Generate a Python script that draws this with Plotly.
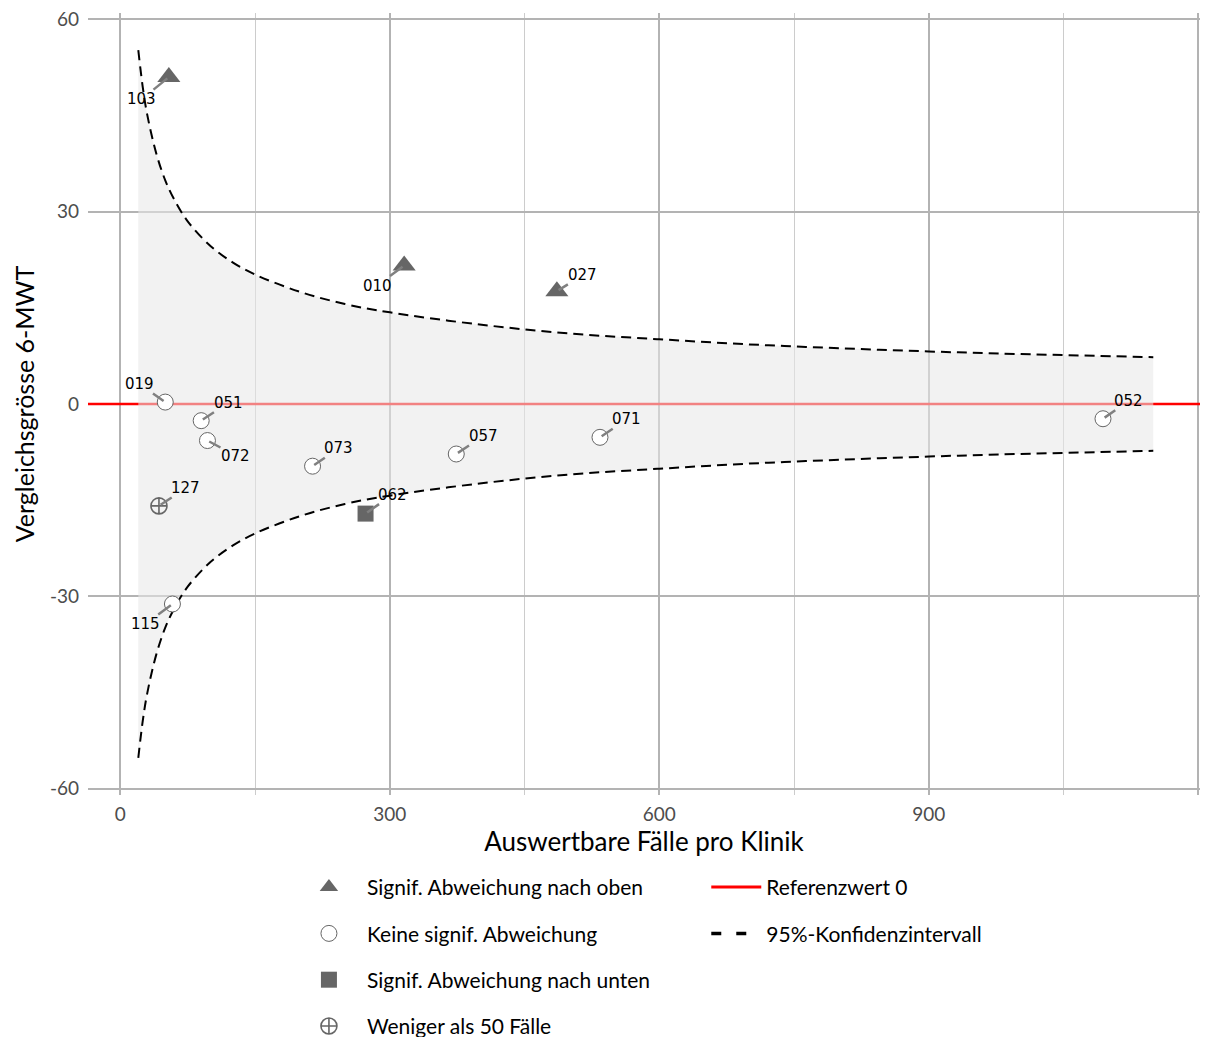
import plotly.graph_objects as go

# ---- data ----
clinic_ids = ["103", "010", "027", "019", "051", "072", "073", "057", "071", "052", "127", "062", "115"]
cases      = [54, 316, 486, 50, 90, 97, 214, 374, 534, 1094, 43, 273, 58]
values     = [51.0, 21.6, 17.6, 0.3, -2.6, -5.7, -9.7, -7.8, -5.2, -2.3, -15.9, -17.1, -31.2]
groups     = ["up", "up", "up", "none", "none", "none", "none", "none", "none", "none", "few", "down", "none"]

# label offsets (pixels, text centre relative to point)
label_dx = [-27, -27, 26, -26, 27, 28, 26, 27, 27, 26, 27, 27, -27]
label_dy = [22, 20, -16, -18, -18, 15, -18, -18, -18, -18, -18, -19, 20]

# 95% confidence funnel
ci_cases = [20, 25, 30, 40, 50, 60, 75, 100, 125, 150, 200, 250, 300, 400, 500, 600, 700, 800, 900, 1000, 1150]
ci_upper = [55.2, 49.4, 45.1, 39.1, 34.9, 31.9, 28.5, 24.7, 22.1, 20.2, 17.5, 15.6, 14.3, 12.4, 11.0, 10.1, 9.3, 8.7, 8.2, 7.8, 7.3]
ci_lower = [-55.2, -49.4, -45.1, -39.1, -34.9, -31.9, -28.5, -24.7, -22.1, -20.2, -17.5, -15.6, -14.3, -12.4, -11.0, -10.1, -9.3, -8.7, -8.2, -7.8, -7.3]

reference_value = 0
x_ticks = [0, 300, 600, 900, 1200]
x_minor = [150, 450, 750, 1050]
y_ticks = [-60, -30, 0, 30, 60]
x_range = [-36, 1202]
y_range = [-61, 61]

group_info = {
    "up":   ("Signif. Abweichung nach oben", "triangle-up", 20, "#666666", "#666666", 0),
    "none": ("Keine signif. Abweichung", "circle", 16, "white", "#666666", 1),
    "down": ("Signif. Abweichung nach unten", "square", 16, "#666666", "#666666", 0),
    "few":  ("Weniger als 50 Fälle", "circle-cross-open", 16, "#666666", "#666666", 1.6),
}
group_order = ["up", "none", "down", "few"]

FONT = "Lato"
CI_DASH = "10px,6px"
fig = go.Figure()

# reference line spanning the whole panel
fig.add_trace(go.Scatter(x=x_range, y=[reference_value, reference_value], mode="lines",
                         line=dict(color="#ff0000", width=2.5), showlegend=False))

# confidence band fill (lower edge, then upper edge filled to it)
fig.add_trace(go.Scatter(x=ci_cases, y=ci_lower, mode="lines",
                         line=dict(width=0, shape="spline"), hoverinfo="skip", showlegend=False))
fig.add_trace(go.Scatter(x=ci_cases, y=ci_upper, mode="lines", fill="tonexty",
                         fillcolor="rgba(232,232,232,0.56)",
                         line=dict(width=0, shape="spline"), hoverinfo="skip", showlegend=False))

# dashed CI lines
fig.add_trace(go.Scatter(x=ci_cases, y=ci_upper, mode="lines",
                         line=dict(color="black", width=2, dash=CI_DASH, shape="spline"),
                         showlegend=False))
fig.add_trace(go.Scatter(x=ci_cases, y=ci_lower, mode="lines",
                         line=dict(color="black", width=2, dash=CI_DASH, shape="spline"),
                         showlegend=False))

# points
for i, g in enumerate(group_order):
    name, sym, size, fillc, linec, lw = group_info[g]
    xs = [c for c, gg in zip(cases, groups) if gg == g]
    ys = [v for v, gg in zip(values, groups) if gg == g]
    fig.add_trace(go.Scatter(
        x=xs, y=ys, mode="markers", name=name, legend="legend", legendgroup=g, legendrank=i + 1,
        marker=dict(symbol=sym, size=size, color=fillc, line=dict(color=linec, width=lw))))

# legend entries for the lines
fig.add_trace(go.Scatter(x=[None], y=[None], mode="lines", name="Referenzwert 0",
                         line=dict(color="#ff0000", width=3),
                         legend="legend2", legendgroup="ref", legendrank=1))
fig.add_trace(go.Scatter(x=[None], y=[None], mode="lines", name="95%-Konfidenzintervall",
                         line=dict(color="black", width=3.5, dash="10px,15px"),
                         legend="legend2", legendgroup="ci", legendrank=2))

# labels
for cid, cx, cy, dx, dy in zip(clinic_ids, cases, values, label_dx, label_dy):
    fig.add_annotation(x=cx, y=cy, text=cid, showarrow=True, arrowhead=0, arrowwidth=2.5,
                       arrowcolor="#808080", standoff=2, ax=dx, ay=dy, xref="x", yref="y",
                       font=dict(family="DejaVu Sans", size=15, color="black"), borderpad=0)

grid_major = "#b3b3b3"
grid_minor = "#cccccc"
fig.update_layout(
    width=1218, height=1037,
    margin=dict(l=88, r=18, t=13, b=242, autoexpand=False),
    paper_bgcolor="white", plot_bgcolor="white",
    font=dict(family=FONT, color="black"),
    xaxis=dict(range=x_range, tickvals=x_ticks, ticktext=[str(v) for v in x_ticks],
               showgrid=True, gridcolor=grid_major, gridwidth=2, zeroline=False, showline=False,
               ticks="", tickfont=dict(family=FONT, size=19, color="#4d4d4d"), ticklabelstandoff=6,
               minor=dict(tickvals=x_minor, showgrid=True, gridcolor=grid_minor, gridwidth=1),
               title=dict(text="Auswertbare Fälle pro Klinik", font=dict(family=FONT, size=26, color="black"),
                          standoff=6)),
    yaxis=dict(range=y_range, tickvals=y_ticks, ticktext=[str(v) for v in y_ticks],
               showgrid=True, gridcolor=grid_major, gridwidth=2, zeroline=False, showline=False,
               ticks="", tickfont=dict(family=FONT, size=19, color="#4d4d4d"), ticklabelstandoff=8,
               title=dict(text="Vergleichsgrösse 6-MWT", font=dict(family=FONT, size=25, color="black"),
                          standoff=8)),
    legend=dict(x=0.1825, y=-0.092, xanchor="left", yanchor="top", orientation="v",
                font=dict(family=FONT, size=21, color="black"), itemwidth=66,
                tracegroupgap=16, traceorder="grouped", bgcolor="rgba(0,0,0,0)"),
    legend2=dict(x=0.556, y=-0.092, xanchor="left", yanchor="top", orientation="v",
                 font=dict(family=FONT, size=21, color="black"), itemwidth=50,
                 tracegroupgap=16, traceorder="grouped", bgcolor="rgba(0,0,0,0)"),
    showlegend=True,
)

fig.write_html("out.html")
